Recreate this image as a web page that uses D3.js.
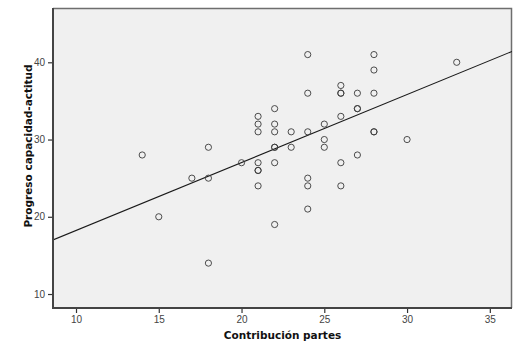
<!DOCTYPE html>
<html>
<head>
<meta charset="utf-8">
<script src="https://cdn.jsdelivr.net/npm/d3@7"></script>
<style>
  html, body { margin: 0; padding: 0; background: #ffffff; }
  svg { display: block; }
</style>
</head>
<body>
<svg id="chart" width="523" height="355"></svg>
<script>
// Data: Contribución partes (x) vs Progreso capacidad-actitud (y)
const xValues = [14, 15, 17, 18, 18, 18, 20,
  21, 21, 21, 21, 21, 21, 21,
  22, 22, 22, 22, 22, 22, 22,
  23, 23,
  24, 24, 24, 24, 24, 24,
  25, 25, 25,
  26, 26, 26, 26, 26, 26,
  27, 27, 27, 27,
  28, 28, 28, 28, 28,
  30, 33];
const yValues = [28, 20, 25, 29, 25, 14, 27,
  33, 32, 31, 27, 26, 26, 24,
  34, 32, 31, 29, 29, 27, 19,
  31, 29,
  41, 36, 31, 25, 24, 21,
  32, 30, 29,
  37, 36, 36, 33, 27, 24,
  36, 34, 34, 28,
  41, 39, 36, 31, 31,
  30, 40];
const xTicks = [10, 15, 20, 25, 30, 35];
const yTicks = [10, 20, 30, 40];
const fitIntercept = 9.43;
const fitSlope = 0.88;
const xTitle = "Contribución partes";
const yTitle = "Progreso capacidad-actitud";

const svg = d3.select("#chart");
const pLeft = 53, pRight = 512, pTop = 8, pBottom = 308;

const x = d3.scaleLinear().domain([8.61, 36.34]).range([pLeft, pRight]);
const y = d3.scaleLinear().domain([8.19, 47.03]).range([pBottom, pTop]);

// plot background
svg.append("rect")
  .attr("x", pLeft).attr("y", pTop)
  .attr("width", pRight - pLeft).attr("height", pBottom - pTop)
  .attr("fill", "#f0f0f0");

// top & right border
svg.append("path")
  .attr("d", `M${pLeft},${pTop + 0.5}H${pRight - 0.5}V${pBottom}`)
  .attr("fill", "none").attr("stroke", "#6e6e6e").attr("stroke-width", 1.5);

// clip for regression line
svg.append("clipPath").attr("id", "clip")
  .append("rect").attr("x", pLeft).attr("y", pTop)
  .attr("width", pRight - pLeft).attr("height", pBottom - pTop);

// regression line
const xd = x.domain();
svg.append("line")
  .attr("clip-path", "url(#clip)")
  .attr("x1", x(xd[0])).attr("y1", y(fitIntercept + fitSlope * xd[0]))
  .attr("x2", x(xd[1])).attr("y2", y(fitIntercept + fitSlope * xd[1]))
  .attr("stroke", "#1a1a1a").attr("stroke-width", 1.1);

// points
const pts = xValues.map((v, i) => ({ x: v, y: yValues[i] }));
svg.append("g").selectAll("circle").data(pts).join("circle")
  .attr("cx", d => x(d.x)).attr("cy", d => y(d.y))
  .attr("r", 3.1)
  .attr("fill", "none")
  .attr("stroke", "#3a3a3a")
  .attr("stroke-width", 0.9);

// axes
const xAxis = d3.axisBottom(x).tickValues(xTicks).tickSize(5).tickSizeOuter(0).tickPadding(3);
const yAxis = d3.axisLeft(y).tickValues(yTicks).tickSize(5).tickSizeOuter(0).tickPadding(3);

const gx = svg.append("g").attr("transform", `translate(0,${pBottom})`).call(xAxis);
const gy = svg.append("g").attr("transform", `translate(${pLeft},0)`).call(yAxis);

[gx, gy].forEach(g => {
  g.select(".domain").remove();
  g.selectAll(".tick line").attr("stroke", "#333").attr("stroke-width", 1.2);
  g.selectAll(".tick text")
    .attr("fill", "#444")
    .style("font-family", "Arial, 'Liberation Sans', sans-serif")
    .style("font-size", "10px");
});

// left and bottom axis lines
svg.append("path")
  .attr("d", `M${pLeft},${pTop}V${pBottom}H${pRight}`)
  .attr("fill", "none").attr("stroke", "#444").attr("stroke-width", 2);

// axis titles
svg.append("text")
  .attr("x", (pLeft + pRight) / 2).attr("y", 339)
  .attr("text-anchor", "middle")
  .style("font-family", "'DejaVu Sans', Verdana, sans-serif")
  .style("font-weight", "bold").style("font-size", "10.5px")
  .attr("fill", "#111")
  .text(xTitle);

svg.append("text")
  .attr("transform", `translate(32,${(pTop + pBottom) / 2 - 12}) rotate(-90)`)
  .attr("text-anchor", "middle")
  .style("font-family", "'DejaVu Sans', Verdana, sans-serif")
  .style("font-weight", "bold").style("font-size", "10.5px")
  .attr("fill", "#111")
  .text(yTitle);
</script>
</body>
</html>
